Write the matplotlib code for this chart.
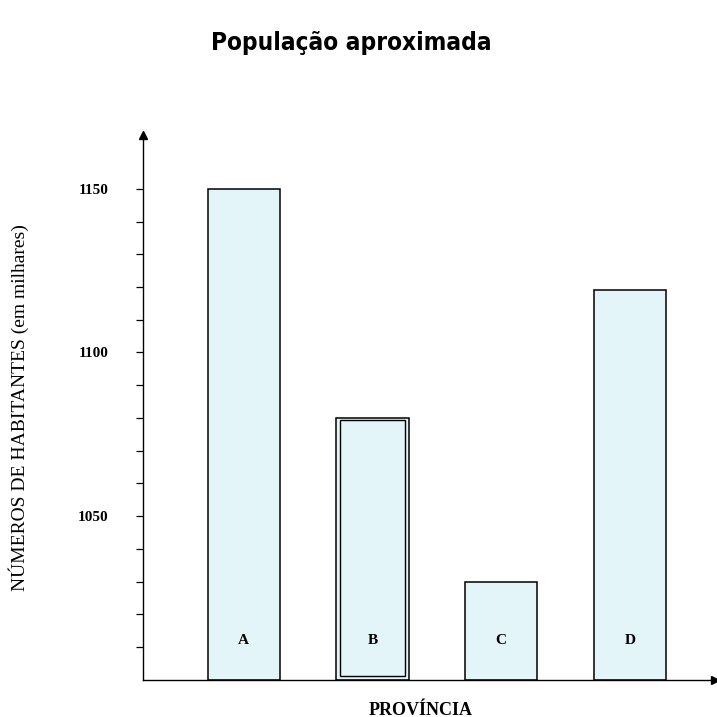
import matplotlib.pyplot as plt
import numpy as np

# Dados
provincias = ['A', 'B', 'C', 'D']
populacao = [1150, 1080, 1030, 1119]
y_ticks = [1050, 1100, 1150]

serif = ['Liberation Serif', 'DejaVu Serif']

fig = plt.figure(figsize=(7.17, 7.17), dpi=100)
ax = fig.add_axes([0.2, 0.052, 0.797, 0.76])

x = np.arange(len(provincias))
cor = '#e3f5f9'
ax.bar(x, [p - 1000 for p in populacao], width=0.56, bottom=1000,
       color=cor, edgecolor='black', linewidth=1.1, zorder=2)
# contorno duplo na barra B
ax.bar(x[1], populacao[1] - 1000 - 1.5, width=0.51, bottom=1001,
       fill=False, edgecolor='black', linewidth=1.0, zorder=3)

for xi, nome in zip(x, provincias):
    ax.text(xi, 1012, nome, ha='center', va='center', fontsize=11,
            fontweight='bold', family=serif, zorder=4)

ax.set_xlim(-0.78, 3.66)
ax.set_ylim(1000, 1166.5)

ax.spines['top'].set_visible(False)
ax.spines['right'].set_visible(False)
ax.spines['left'].set_linewidth(1.0)
ax.spines['bottom'].set_linewidth(1.0)
ax.set_xticks([])
ax.set_yticks(y_ticks)
ax.set_yticks(np.arange(1010, 1160, 10), minor=True)
ax.set_yticklabels([str(v) for v in y_ticks], family=serif, fontsize=11,
                   fontweight='bold')
ax.tick_params(axis='y', which='both', direction='out', length=5, width=0.9, pad=20)

# setas nos eixos
ax.plot(0, 1, marker='^', color='black', markersize=6, transform=ax.transAxes,
        clip_on=False)
ax.plot(1, 0, marker='>', color='black', markersize=6, transform=ax.transAxes,
        clip_on=False)

ax.set_ylabel('NÚMEROS DE HABITANTES (em milhares)', family=serif, fontsize=14)
ax.yaxis.set_label_coords(-0.2, 0.5)
ax.set_xlabel('PROVÍNCIA', family=serif, fontsize=13, fontweight='bold')
ax.xaxis.set_label_coords(0.485, -0.04)

fig.text(0.49, 0.94, 'População aproximada', ha='center', va='center',
         fontsize=17.5, fontweight='bold', fontstretch='condensed',
         family=['DejaVu Sans'])

plt.savefig('out.png', dpi=100)
